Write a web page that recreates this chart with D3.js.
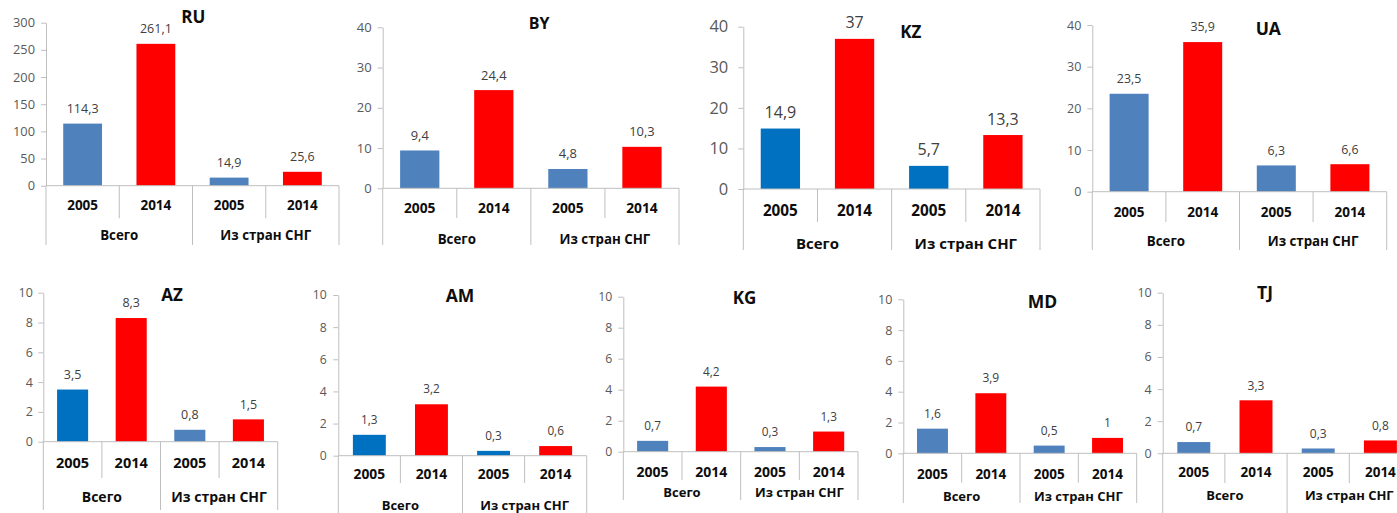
<!DOCTYPE html>
<html>
<head>
<meta charset="utf-8">
<script src="https://cdn.jsdelivr.net/npm/d3@7"></script>
<style>
  html, body { margin: 0; padding: 0; background: #fff; }
  svg { display: block; font-family: "Open Sans", "Noto Sans", sans-serif; }
</style>
</head>
<body>
<svg id="chart" width="1397" height="513"></svg>
<script>
// Countries shown, one small chart each
const countries = ["RU", "BY", "KZ", "UA", "AZ", "AM", "KG", "MD", "TJ"];
// Values per country: total and from CIS countries, 2005 and 2014
const total2005 = [114.3, 9.4, 14.9, 23.5, 3.5, 1.3, 0.7, 1.6, 0.7];
const total2014 = [261.1, 24.4, 37, 35.9, 8.3, 3.2, 4.2, 3.9, 3.3];
const cis2005   = [14.9, 4.8, 5.7, 6.3, 0.8, 0.3, 0.3, 0.5, 0.3];
const cis2014   = [25.6, 10.3, 13.3, 6.6, 1.5, 0.6, 1.3, 1, 0.8];
// Axis ranges per country
const axisMax  = [300, 40, 40, 40, 10, 10, 10, 10, 10];
const axisStep = [50, 10, 10, 10, 2, 2, 2, 2, 2];
// Category labels
const years  = ["2005", "2014"];
const groups = ["Всего", "Из стран СНГ"];

// Panel geometry (pixels) and type sizes: [tick, value, year, group, title]
const panels = [
  {x0: 46,    x1: 339,    yT: 22.7,  y0: 185.7, tx: 193.3,  ty: 16.7,  yy: 205,   gy: 235.7, sb: 218.3, lb: 245, gap: 11, vo: 15, fs: [12.8, 12.5, 13.5, 13.3, 17]},
  {x0: 382.7, x1: 679,    yT: 27.3,  y0: 188.3, tx: 539,    ty: 23,    yy: 208,   gy: 239,   sb: 218,   lb: 245, gap: 11, vo: 15, fs: [13, 12.9, 13.8, 13.3, 16]},
  {x0: 743.3, x1: 1040,   yT: 26.7,  y0: 189,   tx: 910.8,  ty: 31.7,  yy: 211,   gy: 244,   sb: 222,   lb: 250, gap: 15, vo: 16, fs: [16.5, 16, 15.3, 15, 17]},
  {x0: 1092.3,x1: 1386.7, yT: 25,    y0: 191.7, tx: 1268.3, ty: 28.3,  yy: 212.7, gy: 241.7, sb: 222,   lb: 250, gap: 11, vo: 15, fs: [12.5, 12.4, 13.5, 13.3, 17.5]},
  {x0: 43.3,  x1: 277.7,  yT: 292.7, y0: 441.7, tx: 172,    ty: 295,   yy: 463,   gy: 496.7, sb: 478,   lb: 510, gap: 10.5, vo: 15, fs: [12.5, 12.5, 14.5, 14, 17]},
  {x0: 338.3, x1: 586.7,  yT: 295,   y0: 455.7, tx: 460,    ty: 296,   yy: 474.3, gy: 505,   sb: 483,   lb: 513, gap: 11.5, vo: 15, fs: [12.2, 11.8, 13.8, 13, 17.5]},
  {x0: 623.3, x1: 858,    yT: 296.7, y0: 451.7, tx: 744.5,  ty: 298,   yy: 471.7, gy: 492.7, sb: 480,   lb: 500, gap: 11, vo: 15, fs: [12.3, 11.8, 14, 13, 17]},
  {x0: 903.3, x1: 1136.7, yT: 299.3, y0: 453.3, tx: 1042.5, ty: 301.7, yy: 474,   gy: 496,   sb: 482.7, lb: 503, gap: 11, vo: 15, fs: [12.5, 12, 13.5, 13, 17.5]},
  {x0: 1162.7,x1: 1411.5, yT: 292.7, y0: 453.3, tx: 1265,   ty: 293,   yy: 472.7, gy: 495,   sb: 483,   lb: 513, gap: 11, vo: 15, fs: [12.5, 12, 13.5, 13, 17.5]}
];

// Bar fills: 2005 bars use one of two blues, 2014 bars are red
const blueSoft = "#4F81BD", blueDeep = "#0070C0", red = "#FF0000";
const blue2005 = [
  [blueSoft, blueSoft], [blueSoft, blueSoft], [blueDeep, blueDeep], [blueSoft, blueSoft],
  [blueDeep, blueSoft], [blueDeep, blueDeep], [blueSoft, blueSoft], [blueSoft, blueSoft], [blueSoft, blueSoft]
];
const lineColor = "#BFBFBF";
const fmt = v => String(v).replace(".", ",");

const svg = d3.select("#chart");

countries.forEach((name, i) => {
  const p = panels[i];
  const g = svg.append("g");
  const [fsTick, fsVal, fsYear, fsGrp, fsTitle] = p.fs;

  const cats = [
    {key: "t05", year: years[0], value: total2005[i], fill: blue2005[i][0]},
    {key: "t14", year: years[1], value: total2014[i], fill: red},
    {key: "c05", year: years[0], value: cis2005[i],   fill: blue2005[i][1]},
    {key: "c14", year: years[1], value: cis2014[i],   fill: red}
  ];

  const x = d3.scaleBand()
    .domain(cats.map(d => d.key))
    .range([p.x0, p.x1])
    .paddingInner(0.47)
    .paddingOuter(0.235);
  const step = x.step();
  const catLeft = k => x(k) - step * 0.235;
  const catMid = k => x(k) + x.bandwidth() / 2;

  const y = d3.scaleLinear().domain([0, axisMax[i]]).range([p.y0, p.yT]);

  // Y axis
  const yAxis = d3.axisLeft(y)
    .tickValues(d3.range(0, axisMax[i] + axisStep[i] / 2, axisStep[i]))
    .tickSize(5)
    .tickSizeOuter(0)
    .tickPadding(p.gap - 5)
    .tickFormat(d3.format("d"));
  const ya = g.append("g").attr("transform", `translate(${p.x0},0)`).call(yAxis);
  ya.select(".domain").attr("stroke", lineColor);
  ya.selectAll(".tick line").attr("stroke", lineColor);
  ya.selectAll(".tick text")
    .attr("fill", "#595959")
    .style("font-size", fsTick + "px")
    .style("font-family", "'Open Sans', sans-serif");

  // Bars
  g.selectAll("rect.bar").data(cats).enter().append("rect")
    .attr("class", "bar")
    .attr("x", d => x(d.key))
    .attr("width", x.bandwidth())
    .attr("y", d => y(d.value))
    .attr("height", d => y(0) - y(d.value))
    .attr("fill", d => d.fill);

  // Value labels
  g.selectAll("text.val").data(cats).enter().append("text")
    .attr("class", "val")
    .attr("x", d => catMid(d.key))
    .attr("y", d => y(d.value) - p.vo)
    .attr("dy", "0.35em")
    .attr("text-anchor", "middle")
    .attr("fill", "#404040")
    .style("font-size", fsVal + "px")
    .text(d => fmt(d.value));

  // Category axis: baseline and dividers
  g.append("line")
    .attr("x1", p.x0).attr("x2", p.x1)
    .attr("y1", y(0)).attr("y2", y(0))
    .attr("stroke", lineColor);
  const dividers = [0, 1, 2, 3, 4].map(j => ({
    xPos: j < 4 ? catLeft(cats[j].key) : catLeft(cats[3].key) + step,
    long: j % 2 === 0
  }));
  g.selectAll("line.div").data(dividers).enter().append("line")
    .attr("class", "div")
    .attr("x1", d => d.xPos).attr("x2", d => d.xPos)
    .attr("y1", y(0))
    .attr("y2", d => d.long ? p.lb : p.sb)
    .attr("stroke", lineColor);

  // Year labels
  g.selectAll("text.year").data(cats).enter().append("text")
    .attr("class", "year")
    .attr("x", d => catMid(d.key))
    .attr("y", p.yy)
    .attr("dy", "0.35em")
    .attr("text-anchor", "middle")
    .attr("fill", "#0d0d0d")
    .style("font-weight", "bold")
    .style("font-size", fsYear + "px")
    .text(d => d.year);

  // Group labels
  g.selectAll("text.grp").data(groups).enter().append("text")
    .attr("class", "grp")
    .attr("x", (d, j) => catLeft(cats[j * 2].key) + step)
    .attr("y", p.gy)
    .attr("dy", "0.35em")
    .attr("text-anchor", "middle")
    .attr("fill", "#0d0d0d")
    .style("font-weight", "bold")
    .style("font-size", fsGrp + "px")
    .text(d => d);

  // Country title
  g.append("text")
    .attr("x", p.tx)
    .attr("y", p.ty)
    .attr("dy", "0.36em")
    .attr("text-anchor", "middle")
    .attr("fill", "#0d0d0d")
    .style("font-weight", "bold")
    .style("font-size", fsTitle + "px")
    .text(name);
});
</script>
</body>
</html>
